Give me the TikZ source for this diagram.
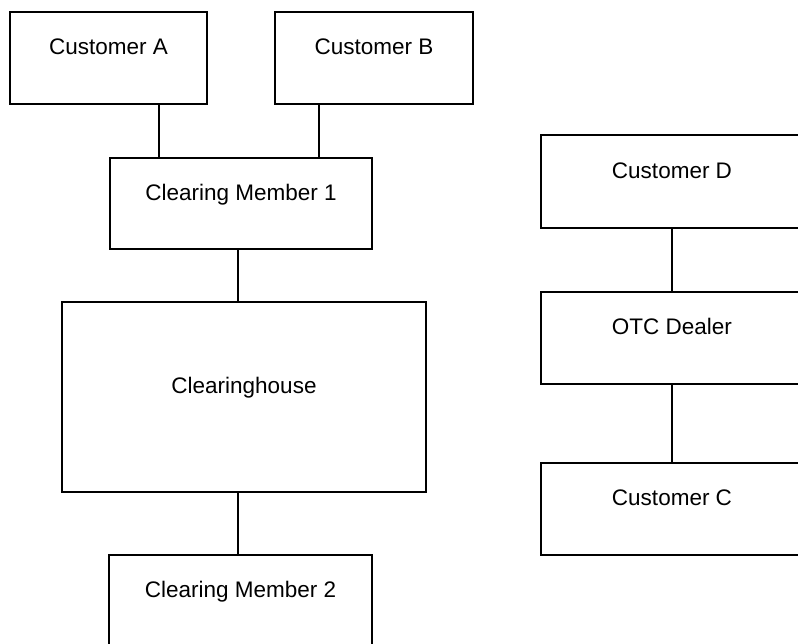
\documentclass[tikz,border=0pt]{standalone}
\usepackage{fontspec}
\setmainfont{Liberation Sans}
\tikzset{
  orgbox/.style={draw, line width=1.2pt, rectangle, inner sep=0pt,
    text height=16pt, text depth=23pt, minimum width=262pt, minimum height=92pt,
    font=\fontsize{22.5}{27}\selectfont},
  link/.style={line width=1.2pt}
}
\begin{document}
\begin{tikzpicture}[x=1pt, y=-1pt]
  \useasboundingbox (0,0) rectangle (798,643);
  \clip (0,0) rectangle (798,643);
  \node[orgbox, minimum width=197pt] (custA) at (108.5,58) {Customer A};
  \node[orgbox, minimum width=198pt] (custB) at (374,58) {Customer B};
  \node[orgbox, minimum height=91pt] (cm1) at (241,203.5) {Clearing Member 1};
  \node[orgbox, minimum width=364pt, minimum height=190pt] (chouse) at (244,397) {Clearinghouse};
  \node[orgbox, minimum width=263pt] (cm2) at (240.5,601) {Clearing Member 2};
  \node[orgbox, minimum height=93pt] (custD) at (672,181.5) {Customer D};
  \node[orgbox] (otc) at (672,338) {OTC Dealer};
  \node[orgbox] (custC) at (672,509) {Customer C};

  \draw[link] ([xshift=50.5pt]custA.south) coordinate (a1) -- (a1 |- cm1.north);
  \draw[link] ([xshift=-55pt]custB.south) coordinate (b1) -- (b1 |- cm1.north);
  \draw[link] ([xshift=-3pt]cm1.south) coordinate (m1) -- (m1 |- chouse.north);
  \draw[link] ([xshift=-6pt]chouse.south) coordinate (h1) -- (h1 |- cm2.north);
  \draw[link] (custD) -- (otc);
  \draw[link] (otc) -- (custC);
\end{tikzpicture}
\end{document}
